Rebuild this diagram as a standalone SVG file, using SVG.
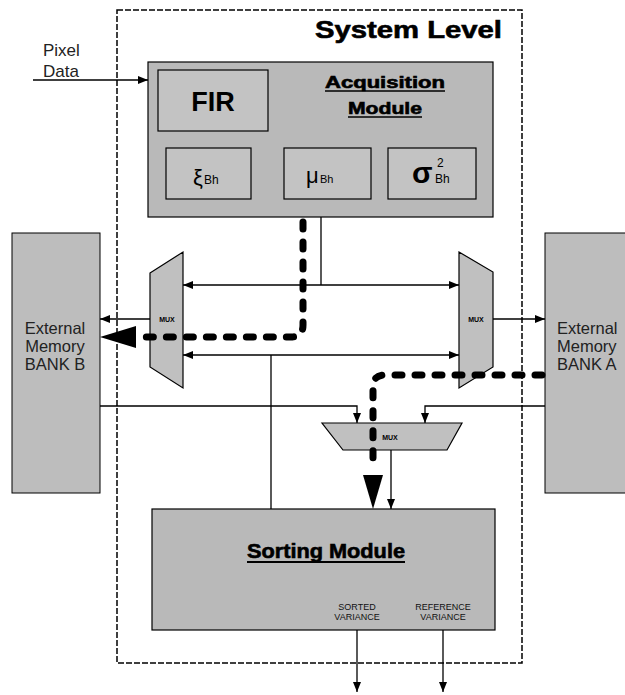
<svg xmlns="http://www.w3.org/2000/svg" width="625" height="695" viewBox="0 0 625 695">
  <style>
    .mod { fill: #b9b9b9; stroke: #000; stroke-width: 1.2; }
    .sub { fill: #c3c3c3; stroke: #000; stroke-width: 1.2; }
    .mem { fill: #bdbdbd; stroke: #000; stroke-width: 1; }
    .mux { fill: #c0c0c0; stroke: #000; stroke-width: 1.2; }
    .wire { fill: none; stroke: #000; stroke-width: 1.3; }
    .path { fill: none; stroke: #000; stroke-width: 7; stroke-dasharray: 7 13; stroke-linecap: round; stroke-linejoin: round; }
    text { font-family: "Liberation Sans", Arial, sans-serif; fill: #000; }
    .heavy { font-weight: bold; stroke: #000; stroke-width: 0.6; }
    .lbl { font-size: 17px; fill: #222; }
    .memlbl { font-size: 16.5px; fill: #222; }
    .tiny { font-size: 7px; font-weight: bold; }
    .small { font-size: 9px; fill: #111; }
  </style>
  <defs>
    <marker id="arr" viewBox="0 0 10 8" refX="10" refY="4" markerWidth="10" markerHeight="8" markerUnits="userSpaceOnUse" orient="auto-start-reverse">
      <path d="M0,0 L10,4 L0,8 Z" fill="#000"/>
    </marker>
  </defs>

  <!-- system boundary -->
  <g id="system-level">
    <rect x="117" y="10" width="405" height="653" fill="none" stroke="#000" stroke-width="1.5" stroke-dasharray="6 2"/>
    <text class="heavy" x="315" y="38" font-size="24" textLength="187" lengthAdjust="spacingAndGlyphs">System Level</text>
  </g>

  <!-- acquisition module -->
  <g id="acquisition-module">
    <rect class="mod" x="148" y="62" width="345" height="155"/>
    <text class="heavy" x="325" y="88" font-size="16" textLength="120" lengthAdjust="spacingAndGlyphs">Acquisition</text>
    <line x1="325" y1="91" x2="445" y2="91" stroke="#000" stroke-width="1.6"/>
    <text class="heavy" x="348" y="114" font-size="16" textLength="74" lengthAdjust="spacingAndGlyphs">Module</text>
    <line x1="348" y1="117" x2="422" y2="117" stroke="#000" stroke-width="1.6"/>
  </g>
  <g id="fir">
    <rect class="sub" x="158" y="70" width="110" height="61"/>
    <text x="213" y="111" font-size="27" font-weight="bold" text-anchor="middle">FIR</text>
  </g>
  <g id="xi-bh">
    <rect class="sub" x="166" y="148" width="85" height="51"/>
    <text x="193" y="185" font-size="22" font-family="'DejaVu Serif', serif">ξ</text>
    <text x="204" y="184" font-size="12">Bh</text>
  </g>
  <g id="mu-bh">
    <rect class="sub" x="284" y="148" width="87" height="51"/>
    <text x="306" y="183" font-size="22" font-family="'DejaVu Serif', serif">μ</text>
    <text x="320" y="183" font-size="11">Bh</text>
  </g>
  <g id="sigma-bh">
    <rect class="sub" x="388" y="148" width="88" height="51"/>
    <text x="412" y="183" font-size="30" font-weight="bold" font-family="'Liberation Serif', serif">σ</text>
    <text x="437" y="167" font-size="12">2</text>
    <text x="435" y="183" font-size="12">Bh</text>
  </g>

  <!-- external memories -->
  <g id="bank-b">
    <rect class="mem" x="12" y="233" width="88" height="260"/>
    <text class="memlbl" x="55" y="334" text-anchor="middle">External</text>
    <text class="memlbl" x="55" y="352" text-anchor="middle">Memory</text>
    <text class="memlbl" x="55" y="370" text-anchor="middle">BANK B</text>
  </g>
  <g id="bank-a">
    <rect class="mem" x="545" y="233" width="90" height="260"/>
    <text class="memlbl" x="557" y="334">External</text>
    <text class="memlbl" x="557" y="352">Memory</text>
    <text class="memlbl" x="557" y="370">BANK A</text>
  </g>

  <!-- multiplexers -->
  <g id="mux-left">
    <polygon class="mux" points="150,273 183,252 183,388 150,367"/>
    <text class="tiny" x="167" y="322" text-anchor="middle">MUX</text>
  </g>
  <g id="mux-right">
    <polygon class="mux" points="459,252 493,272 493,367 459,388"/>
    <text class="tiny" x="476" y="322" text-anchor="middle">MUX</text>
  </g>
  <g id="mux-bottom">
    <polygon class="mux" points="322,423 462,423 447,450 343,450"/>
    <text class="tiny" x="390" y="440" text-anchor="middle">MUX</text>
  </g>

  <!-- sorting module -->
  <g id="sorting-module">
    <rect class="mod" x="152" y="509" width="343" height="121"/>
    <text class="heavy" x="247" y="558" font-size="20" textLength="158" lengthAdjust="spacingAndGlyphs">Sorting Module</text>
    <line x1="247" y1="562" x2="405" y2="562" stroke="#000" stroke-width="2"/>
    <text class="small" x="357" y="610" text-anchor="middle">SORTED</text>
    <text class="small" x="357" y="620" text-anchor="middle">VARIANCE</text>
    <text class="small" x="443" y="610" text-anchor="middle">REFERENCE</text>
    <text class="small" x="443" y="620" text-anchor="middle">VARIANCE</text>
  </g>

  <!-- connectors -->
  <g id="connectors">
    <text class="lbl" x="43" y="56">Pixel</text>
    <text class="lbl" x="43" y="77">Data</text>
    <line class="wire" x1="33" y1="80" x2="148" y2="80" marker-end="url(#arr)"/>

    <!-- upper bus -->
    <line class="wire" x1="321" y1="217" x2="321" y2="285"/>
    <line class="wire" x1="183" y1="285" x2="459" y2="285" marker-start="url(#arr)" marker-end="url(#arr)"/>
    <!-- lower bus -->
    <line class="wire" x1="183" y1="355" x2="459" y2="355" marker-start="url(#arr)" marker-end="url(#arr)"/>
    <line class="wire" x1="271" y1="355" x2="271" y2="509"/>

    <!-- mux outputs to memories -->
    <line class="wire" x1="150" y1="319" x2="100" y2="319" marker-end="url(#arr)"/>
    <line class="wire" x1="493" y1="319" x2="545" y2="319" marker-end="url(#arr)"/>

    <!-- memories to bottom mux -->
    <polyline class="wire" points="100,406 357,406 357,423" marker-end="url(#arr)"/>
    <polyline class="wire" points="545,406 425,406 425,423" marker-end="url(#arr)"/>

    <!-- bottom mux to sorting -->
    <line class="wire" x1="391" y1="450" x2="391" y2="509" marker-end="url(#arr)"/>

    <!-- sorting outputs -->
    <line class="wire" x1="357" y1="630" x2="357" y2="692" marker-end="url(#arr)"/>
    <line class="wire" x1="443" y1="630" x2="443" y2="692" marker-end="url(#arr)"/>

    <!-- highlighted data paths -->
    <path class="path" d="M303,222 L303,325 Q303,337 291,337 L135,337"/>
    <polygon points="100,337 136,326 136,348" fill="#000"/>
    <path class="path" d="M542,375 L385,375 Q373,375 373,387 L373,470"/>
    <polygon points="363,475 383,475 373,509" fill="#000"/>
  </g>
</svg>
